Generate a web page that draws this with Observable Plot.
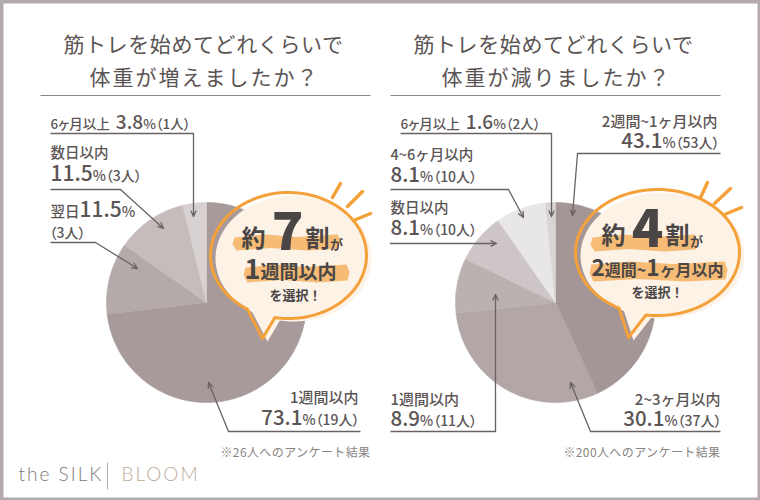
<!DOCTYPE html>
<html><head><meta charset="utf-8">
<script src="https://cdn.jsdelivr.net/npm/d3@7"></script>
<script src="https://cdn.jsdelivr.net/npm/@observablehq/plot@0.6"></script>
<style>
body{margin:0;background:#fff;}
#chart svg{display:block;}
</style></head><body><div id="chart"></div>
<script>
// ---------- data ----------
const leftTitle = ["筋トレを始めてどれくらいで", "体重が増えましたか？"];
const rightTitle = ["筋トレを始めてどれくらいで", "体重が減りましたか？"];
const leftCats = ["1週間以内", "翌日", "数日以内", "6ヶ月以上"];
const leftPct = [73.1, 11.5, 11.5, 3.8];
const leftCount = [19, 3, 3, 1];
const leftTotal = 26;
const rightCats = ["2週間~1ヶ月以内", "2~3ヶ月以内", "1週間以内", "数日以内", "4~6ヶ月以内", "6ヶ月以上"];
const rightPct = [43.1, 30.1, 8.9, 8.1, 8.1, 1.6];
const rightCount = [53, 37, 11, 10, 10, 2];
const rightTotal = 200;
const leftColors = ["#a89a9a", "#b5aaaa", "#c6bcbc", "#d7d1d1"];
const rightColors = ["#a49696", "#b2a6a6", "#bbb1b1", "#cec6c6", "#e9e6e6", "#d9d3d3"];
const leftCallout = {pre: "約", num: "7", post: "割", ga: "が", line2: "1|週間以内", line3: "を選択！"};
const rightCallout = {pre: "約", num: "4", post: "割", ga: "が", line2: "2|週間~|1|ヶ月以内", line3: "を選択！"};

// ---------- geometry helpers ----------
const TXT = "#5b5555", LINE = "#6a6262", ORANGE = "#f4a13a", HILITE = "#f6b86f", CREAM = "#fdf2e6";
const FONT = "'Noto Sans CJK JP', 'Noto Sans', sans-serif";

function pieSlices(vals, colors, cx, cy, r, key) {
  const arcs = d3.pie().sort(null).value(d => d)(vals);
  const pts = [];
  arcs.forEach((a, i) => {
    const id = key + i, fill = colors[i];
    const n = Math.max(2, Math.ceil((a.endAngle - a.startAngle) / 0.02));
    pts.push({id, fill, x: cx, y: cy});
    for (let k = 0; k <= n; k++) {
      const t = a.startAngle + (a.endAngle - a.startAngle) * k / n;
      pts.push({id, fill, x: cx + r * Math.sin(t), y: cy - r * Math.cos(t)});
    }
    pts.push({id, fill, x: cx, y: cy});
  });
  return pts;
}
function bubble(g, dx, dy, id) {
  const pts = [];
  const a0 = g.b1 * Math.PI / 180, a1 = (g.b2 + 360) * Math.PI / 180, n = 140;
  for (let k = 0; k <= n; k++) {
    const t = a0 + (a1 - a0) * k / n;
    pts.push({id, x: g.cx + g.rx * Math.cos(t) + dx, y: g.cy + g.ry * Math.sin(t) + dy});
  }
  pts.push({id, x: g.tip[0] + dx, y: g.tip[1] + dy});
  pts.push({...pts[0]});
  return pts;
}
function strip(x1, x2, y1, y2, id) {
  const h = y2 - y1;
  const top = [[x1 + 2, y1 + 2], [x1 + (x2 - x1) * 0.3, y1 - 1], [x1 + (x2 - x1) * 0.6, y1 + 1.5], [x2 - 3, y1 - 1], [x2, y1 + h * 0.4]];
  const bot = [[x2 - 2, y2 - 1], [x1 + (x2 - x1) * 0.7, y2 + 1], [x1 + (x2 - x1) * 0.35, y2 - 1.5], [x1 + 4, y2 + 1], [x1, y1 + h * 0.6]];
  return [...top, ...bot, top[0]].map(([x, y]) => ({id, x, y}));
}

const LP = {cx: 206, cy: 302, r: 100}, RP = {cx: 555, cy: 302, r: 100};
const LB = {cx: 288, cy: 255, rx: 78, ry: 63, b1: 122, b2: 100, tip: [262, 338]};
const RB = {cx: 657, cy: 252, rx: 82, ry: 63, b1: 118, b2: 98, tip: [628, 337]};

const pies = [...pieSlices(leftPct, leftColors, LP.cx, LP.cy, LP.r, "L"), ...pieSlices(rightPct, rightColors, RP.cx, RP.cy, RP.r, "R")];

// labels: text, x, y, anchor, base size, size of numeric segments
const lab = (p, n) => `${p}|%（${n}人）`;
const labels = [
  [`${leftCats[3]}\u00a0\u00a0|${leftPct[3]}|%（${leftCount[3]}人）`, 50, 124, "start", 13.5, 19],
  [leftCats[2], 50, 153, "start", 14.5, 0],
  [lab(leftPct[2], leftCount[2]), 50, 176, "start", 14, 21],
  [`${leftCats[1]}|${leftPct[1]}|%`, 50, 212, "start", 14.5, 21],
  [`（${leftCount[1]}人）`, 49, 233, "start", 14, 0],
  [leftCats[0], 358, 398, "end", 15, 0],
  [lab(leftPct[0], leftCount[0]), 359, 420, "end", 14, 20.5],
  [`${rightCats[5]}\u00a0\u00a0|${rightPct[5]}|%（${rightCount[5]}人）`, 400, 124, "start", 13.5, 19],
  [rightCats[4], 390, 155, "start", 14.5, 0],
  [lab(rightPct[4], rightCount[4]), 390, 177, "start", 14, 20.5],
  [rightCats[3], 390, 208, "start", 14.5, 0],
  [lab(rightPct[3], rightCount[3]), 390, 230, "start", 14, 20.5],
  [rightCats[0], 717, 122, "end", 15, 0],
  [lab(rightPct[0], rightCount[0]), 719, 143, "end", 14, 20.5],
  [rightCats[2], 390, 400, "start", 15, 0],
  [lab(rightPct[2], rightCount[2]), 390, 421, "start", 14, 20.5],
  [rightCats[1], 720, 400, "end", 15, 0],
  [lab(rightPct[1], rightCount[1]), 721, 421, "end", 14, 20.5]
].map(([text, x, y, anchor, size, big]) => ({text, x, y, anchor, size, big}));

// leader underlines and arrows
const underlines = [
  [50, 133, 193, 133], [50, 189, 120, 189], [50, 242, 95, 242], [228, 431, 360, 431],
  [400, 133, 551, 133], [390, 189, 508, 189], [577, 153, 720, 153], [390, 431, 495, 431], [590, 431, 720, 431]
].map(([x1, y1, x2, y2]) => ({x1, y1, x2, y2}));
const arrows = [
  [193, 133, 193, 216], [120, 189, 163, 228], [95, 242, 137, 268], [228, 431, 208, 382],
  [551, 133, 551, 216], [508, 189, 523, 217], [390, 243, 496, 243], [577, 153, 572, 215],
  [495, 431, 495, 294], [590, 431, 570, 382]
].map(([x1, y1, x2, y2]) => ({x1, y1, x2, y2}));

const rays = [
  [332, 197, 340, 183], [347, 206, 362, 191], [353, 220, 370, 213],
  [700, 197, 707, 182], [714, 203, 730, 188], [724, 214, 741, 207]
].map(([x1, y1, x2, y2]) => ({x1, y1, x2, y2}));

const bubbleFill = [...bubble(LB, 5, 3, "lf"), ...bubble(RB, 5, 3, "rf")];
const bubbleStroke = [...bubble(LB, 0, 0, "ls"), ...bubble(RB, 0, 0, "rs")];
const strips = [...strip(232, 340, 235, 249, "s1"), ...strip(243, 349, 265, 281, "s2"),
                ...strip(590, 697, 235, 250, "s3"), ...strip(589, 727, 262, 280, "s4")];

const calloutPos = [[leftCallout, 253, 233], [rightCallout, 613, 230]];
const kanji = calloutPos.flatMap(([c, x0, y0]) => [
  {text: c.pre, x: x0, y: y0 + 6}, {text: c.post, x: x0 + 64, y: y0 + 6}]);
const bigNums = calloutPos.map(([c, x0, y0]) => ({text: c.num, x: x0 + 34, y: y0}));
const gas = calloutPos.map(([c, x0, y0]) => ({text: c.ga, x: x0 + 83, y: y0 + 11}));

const cfg = (o) => ({x: "x", y: "y", text: "text", fontFamily: FONT, ...o});
const bigSize = new Map(labels.map(d => [d.text, d.big]));
bigSize.set(leftCallout.line2, 27); bigSize.set(rightCallout.line2, 22.5);

const plot = Plot.plot({
  width: 760, height: 500, margin: 0,
  x: {domain: [0, 760], range: [0, 760], axis: null},
  y: {domain: [0, 500], range: [0, 500], axis: null},
  color: {type: "identity"},
  style: {background: "#fff", fontFamily: FONT},
  marks: [
    Plot.frame({stroke: "#b3abab", strokeWidth: 6}),
    // titles
    Plot.text([leftTitle[0], rightTitle[0]], {x: (d, i) => [203, 553][i], y: 45, text: d => d, fontSize: 21, fill: "#5a5454", fontFamily: FONT}),
    Plot.text([leftTitle[1], rightTitle[1]], {x: (d, i) => [204, 556][i], y: 78, text: d => d, fontSize: 21, fill: "#5a5454", fontFamily: FONT}),
    Plot.link([{x1: 40, x2: 370}, {x1: 390, x2: 720}], {x1: "x1", x2: "x2", y1: 95, y2: 95, stroke: "#8e8686", strokeWidth: 1.2}),
    // pies
    Plot.line(pies, {x: "x", y: "y", z: "id", fill: "fill", stroke: "fill", strokeWidth: 0.6, curve: "linear"}),
    // leaders
    Plot.link(underlines, {x1: "x1", y1: "y1", x2: "x2", y2: "y2", stroke: LINE, strokeWidth: 1.3}),
    Plot.arrow(arrows, {x1: "x1", y1: "y1", x2: "x2", y2: "y2", stroke: LINE, strokeWidth: 1.3, headLength: 7, headAngle: 50}),
    // labels
    Plot.text(labels.filter(d => d.anchor === "start"), cfg({textAnchor: "start", fontSize: "size", fill: TXT, fontWeight: 500})),
    Plot.text(labels.filter(d => d.anchor === "end"), cfg({textAnchor: "end", fontSize: "size", fill: TXT, fontWeight: 500})),
    // bubbles
    Plot.line(bubbleFill, {x: "x", y: "y", z: "id", fill: CREAM, stroke: "none"}),
    Plot.line(strips, {x: "x", y: "y", z: "id", fill: HILITE, stroke: "none", fillOpacity: 0.95}),
    Plot.line(bubbleStroke, {x: "x", y: "y", z: "id", fill: "none", stroke: ORANGE, strokeWidth: 3, strokeLinejoin: "round"}),
    Plot.link(rays, {x1: "x1", y1: "y1", x2: "x2", y2: "y2", stroke: ORANGE, strokeWidth: 3.5, strokeLinecap: "round"}),
    Plot.text(kanji, cfg({fontSize: 24, fontWeight: 700, fill: "#4a4646"})),
    Plot.text(bigNums, cfg({fontSize: 52, fontWeight: 900, fill: "#4a4646", fontFamily: "'Noto Sans CJK JP', 'DejaVu Sans', sans-serif"})),
    Plot.text(gas, cfg({fontSize: 13, fontWeight: 700, fill: "#4a4646"})),
    Plot.text([leftCallout.line2], {x: 244, y: 272, text: d => d, textAnchor: "start", fontSize: 19, fontWeight: 700, fill: "#4a4646", fontFamily: FONT}),
    Plot.text([rightCallout.line2], {x: 591, y: 270, text: d => d, textAnchor: "start", fontSize: 16, fontWeight: 700, fill: "#4a4646", fontFamily: FONT}),
    Plot.text([leftCallout.line3, rightCallout.line3], {x: (d, i) => [295, 657][i], y: (d, i) => [295, 292][i], text: d => d, fontSize: 13, fontWeight: 700, fill: "#4a4646", fontFamily: FONT}),
    // footnotes
    Plot.text([`※${leftTotal}人へのアンケート結果`, `※${rightTotal}人へのアンケート結果`], {x: (d, i) => [370, 720][i], y: 453, text: d => d, textAnchor: "end", fontSize: 12, fill: "#8a8484", fontFamily: FONT}),
    // brand
    Plot.text(["the SILK"], {x: 18, y: 474, text: d => d, textAnchor: "start", fontSize: 19, fill: "#7f7979", fontFamily: "Lato, sans-serif", fontWeight: 300}),
    Plot.text(["BLOOM"], {x: 121, y: 474, text: d => d, textAnchor: "start", fontSize: 19, fill: "#bcab9b", fontFamily: "Lato, sans-serif", fontWeight: 300}),
    Plot.link([0], {x1: 107, x2: 107, y1: 462, y2: 489, stroke: "#b8b0b0", strokeWidth: 1})
  ]
});
document.getElementById("chart").appendChild(plot);

// mixed-size segments: numeric segments are enlarged; proportional CJK punctuation for labels
d3.select(plot).selectAll("text").each(function () {
  const t = this.textContent;
  if (t.includes("（")) this.style.fontFeatureSettings = '"palt"';
  if (!t.includes("|")) return;
  const base = parseFloat(getComputedStyle(this).fontSize);
  const big = bigSize.get(t) || base * 1.42;
  const el = d3.select(this);
  this.textContent = "";
  t.split("|").forEach(seg => {
    el.append("tspan").attr("font-size", /^[\d.]+$/.test(seg) ? big : base).text(seg);
  });
});
d3.select(plot).selectAll("text").each(function () {
  const t = this.textContent;
  if (t === leftTitle[0] || t === rightTitle[0]) this.setAttribute("letter-spacing", "0.6");
  if (t === leftTitle[1] || t === rightTitle[1]) this.setAttribute("letter-spacing", "2");
  if (t === "the SILK" || t === "BLOOM") this.setAttribute("letter-spacing", "2");
  if (t.startsWith("※")) this.setAttribute("letter-spacing", "0.4");
});
</script></body></html>
